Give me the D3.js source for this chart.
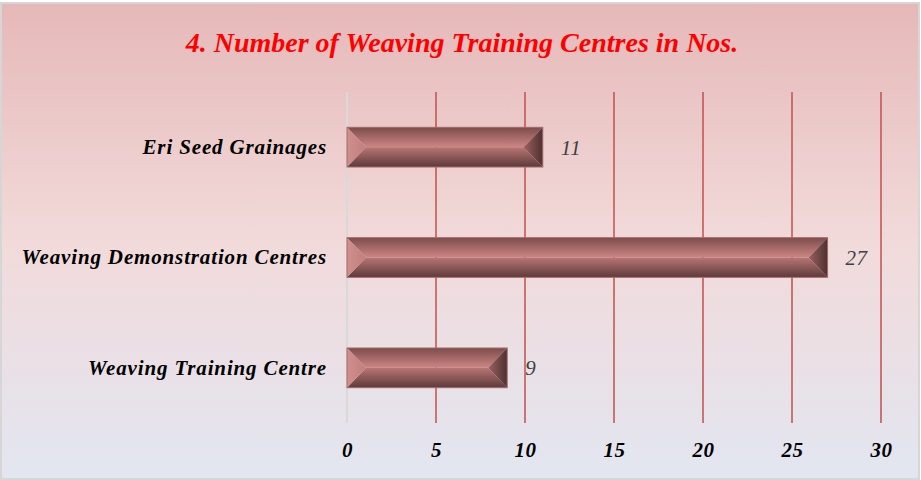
<!DOCTYPE html>
<html><head><meta charset="utf-8">
<script src="https://cdn.jsdelivr.net/npm/d3@7"></script>
<style>body{margin:0;background:#fff}svg{display:block}</style>
</head><body>
<script>
const categories = ["Eri Seed Grainages", "Weaving Demonstration Centres", "Weaving Training Centre"];
const values = [11, 27, 9];
const tickValues = [0, 5, 10, 15, 20, 25, 30];
const titleText = "4. Number of Weaving Training Centres in Nos.";

const W = 921, H = 480;
const svg = d3.select("body").append("svg").attr("width", W).attr("height", H);
const defs = svg.append("defs");

const bg = defs.append("linearGradient").attr("id","bg").attr("x1",0).attr("y1",0).attr("x2",0).attr("y2",1);
bg.append("stop").attr("offset","0%").attr("stop-color","#e6b8b8");
bg.append("stop").attr("offset","50%").attr("stop-color","#f2dada");
bg.append("stop").attr("offset","100%").attr("stop-color","#e2e6f1");

const gTop = defs.append("linearGradient").attr("id","gTop").attr("x1",0).attr("y1",0).attr("x2",0).attr("y2",1);
gTop.append("stop").attr("offset","0%").attr("stop-color","#7c4c4c");
gTop.append("stop").attr("offset","100%").attr("stop-color","#cc8684");
const gBot = defs.append("linearGradient").attr("id","gBot").attr("x1",0).attr("y1",0).attr("x2",0).attr("y2",1);
gBot.append("stop").attr("offset","0%").attr("stop-color","#b87674");
gBot.append("stop").attr("offset","100%").attr("stop-color","#5c3a3a");
const gRight = defs.append("linearGradient").attr("id","gRight").attr("x1",0).attr("y1",0).attr("x2",1).attr("y2",0);
gRight.append("stop").attr("offset","0%").attr("stop-color","#9a6060");
gRight.append("stop").attr("offset","100%").attr("stop-color","#4e3030");
const gLeft = defs.append("linearGradient").attr("id","gLeft").attr("x1",0).attr("y1",0).attr("x2",1).attr("y2",0);
gLeft.append("stop").attr("offset","0%").attr("stop-color","#d08e8c");
gLeft.append("stop").attr("offset","100%").attr("stop-color","#c07e7c");

svg.append("rect").attr("x",1).attr("y",3).attr("width",918).attr("height",476)
  .attr("fill","url(#bg)").attr("stroke","#d6d6d6").attr("stroke-width",2);

svg.append("text").attr("x",462).attr("y",52).attr("text-anchor","middle")
  .attr("font-family","Liberation Serif, serif").attr("font-style","italic").attr("font-weight","bold")
  .attr("font-size",28).attr("fill","#ff0000").text(titleText);

const x = d3.scaleLinear().domain([0,30]).range([347,881]);
const y = d3.scaleBand().domain(categories).range([92,423]).paddingInner(0.64).paddingOuter(0.32);

// gridlines
svg.append("g").selectAll("line").data(tickValues).join("line")
  .attr("x1", d=>x(d)).attr("x2", d=>x(d)).attr("y1",92).attr("y2",423)
  .attr("stroke", d=> d===0 ? "#d9d9d9" : "#c0504d").attr("stroke-width", d=> d===0?2:1.5);

// x axis labels
const xAxis = d3.axisBottom(x).tickValues(tickValues).tickSize(0).tickPadding(0);
const ax = svg.append("g").attr("transform","translate(0,457)").call(xAxis);
ax.select(".domain").remove();
ax.selectAll("text").attr("dy",0).attr("font-family","Liberation Serif, serif").attr("font-style","italic")
  .attr("font-weight","bold").attr("font-size",21).attr("letter-spacing","0.5px").attr("fill","#000");

// y axis labels
const yAxis = d3.axisLeft(y).tickSize(0).tickPadding(20);
const ay = svg.append("g").attr("transform","translate(347,0)").call(yAxis);
ay.select(".domain").remove();
ay.selectAll("text").attr("font-family","Liberation Serif, serif").attr("font-style","italic")
  .attr("font-weight","bold").attr("font-size",21).attr("letter-spacing","0.85px").attr("fill","#000");

// bars
const data = categories.map((c,i)=>({c, v: values[i]}));
const bars = svg.append("g").selectAll("g").data(data).join("g");
bars.each(function(d){
  const g = d3.select(this);
  const x0 = x(0), x1 = x(d.v), y0 = y(d.c), h = y.bandwidth(), y1 = y0 + h, ym = y0 + h/2;
  const b = Math.min(19, (x1-x0)/2);
  const pts = a => a.map(p=>p.join(",")).join(" ");
  g.append("polygon").attr("points", pts([[x0,y0],[x1,y0],[x1-b,ym],[x0+b,ym]])).attr("fill","url(#gTop)");
  g.append("polygon").attr("points", pts([[x0+b,ym],[x1-b,ym],[x1,y1],[x0,y1]])).attr("fill","url(#gBot)");
  g.append("polygon").attr("points", pts([[x0,y0],[x0+b,ym],[x0,y1]])).attr("fill","url(#gLeft)");
  g.append("polygon").attr("points", pts([[x1,y0],[x1-b,ym],[x1,y1]])).attr("fill","url(#gRight)");
  g.append("rect").attr("x",x0).attr("y",y0).attr("width",x1-x0).attr("height",h)
    .attr("fill","none").attr("stroke","#a86a6a").attr("stroke-width",1);
  g.append("text").attr("x", x1+18).attr("y", ym).attr("dy","0.35em")
    .attr("font-family","Liberation Serif, serif").attr("font-style","italic")
    .attr("font-size",21).attr("letter-spacing","0.5px").attr("fill","#404040").text(d.v);
});
</script>
</body></html>
